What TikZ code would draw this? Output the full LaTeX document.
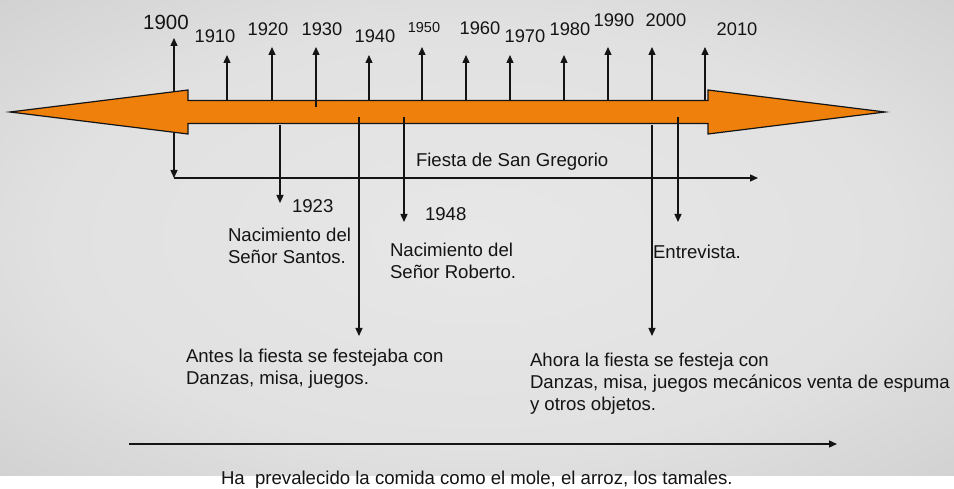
\documentclass[tikz,border=0pt]{standalone}
\usepackage{fontspec}
\setmainfont{Liberation Sans}
\usetikzlibrary{arrows.meta}
\definecolor{orangefill}{RGB}{240,128,12}
\definecolor{ink}{RGB}{20,20,20}
\definecolor{bgA}{RGB}{231,231,231}
\definecolor{bgB}{RGB}{225,225,225}
\definecolor{bgC}{RGB}{207,207,207}
\definecolor{bgD}{RGB}{184,184,184}
\definecolor{bgE}{RGB}{172,172,172}
\pgfdeclareradialshading{bgshade}{\pgfpoint{0bp}{0bp}}{color(0bp)=(bgA); color(22bp)=(bgB); color(38bp)=(bgC); color(50bp)=(bgD); color(71bp)=(bgE)}
\tikzset{
  conn/.style={draw=ink, line width=1.3pt, -{Triangle[length=8pt,width=7pt]}},
  conn2/.style={draw=ink, line width=1.3pt, {Triangle[length=8pt,width=7pt]}-{Triangle[length=8pt,width=7pt]}},
  yr/.style={inner sep=0pt, outer sep=0pt, anchor=base, text=ink, font=\fontsize{18.3}{21}\selectfont},
  lbl/.style={inner sep=0pt, outer sep=0pt, text=ink, font=\fontsize{18.6}{21.9}\selectfont},
  blockarrow/.style={fill=orangefill, draw=ink, line width=1.2pt, line join=miter}
}
\begin{document}
\begin{tikzpicture}[x=1pt,y=-1pt]
\useasboundingbox (0,0) rectangle (954,489);
\fill[white] (0,0) rectangle (954,489);
\shade[shading=bgshade] (0,0) rectangle (954,475);

% 1900 connector (behind the block arrow)
\coordinate (a1900) at (174,38);
\coordinate (b1900) at (174,178);
\draw[conn2] (b1900) -- (a1900);

% block arrow
\draw[blockarrow] (10,112) -- (188,90) -- (188,100.5) -- (708,100.5) -- (708,90) -- (885,112)
  -- (708,134) -- (708,123.5) -- (188,123.5) -- (188,134) -- cycle;

% upward ticks
\coordinate (b1910) at (227,100.5); \coordinate (a1910) at (227,55);
\coordinate (b1920) at (272,100.5); \coordinate (a1920) at (272,47);
\coordinate (b1930) at (316,107);   \coordinate (a1930) at (316,47);
\coordinate (b1940) at (369,100.5); \coordinate (a1940) at (369,55);
\coordinate (b1950) at (422,100.5); \coordinate (a1950) at (422,47);
\coordinate (b1960) at (466,100.5); \coordinate (a1960) at (466,55);
\coordinate (b1970) at (510,100.5); \coordinate (a1970) at (510,55);
\coordinate (b1980) at (564,100.5); \coordinate (a1980) at (564,55);
\coordinate (b1990) at (608,100.5); \coordinate (a1990) at (608,47);
\coordinate (b2000) at (652,100.5); \coordinate (a2000) at (652,47);
\coordinate (b2010) at (705,100.5); \coordinate (a2010) at (705,47);
\foreach \y in {1910,1920,1930,1940,1950,1960,1970,1980,1990,2000,2010}
  \draw[conn] (b\y) -- (a\y);

% year labels
\node[yr, font=\fontsize{20.5}{24}\selectfont] (l1900) at (166,30) {1900};
\node[yr] (l1910) at (215,43) {1910};
\node[yr] (l1920) at (268,36) {1920};
\node[yr] (l1930) at (322,36) {1930};
\node[yr] (l1940) at (375,43) {1940};
\node[yr, font=\fontsize{14.5}{17}\selectfont] (l1950) at (424,32.3) {1950};
\node[yr] (l1960) at (480,35) {1960};
\node[yr] (l1970) at (525,43) {1970};
\node[yr] (l1980) at (570,36) {1980};
\node[yr] (l1990) at (614,27) {1990};
\node[yr] (l2000) at (666,27) {2000};
\node[yr] (l2010) at (737,36) {2010};

% Fiesta de San Gregorio
\coordinate (fend) at (758,178);
\draw[conn] (b1900) -- (fend);
\node[lbl, anchor=base west] (fiesta) at (416,167) {Fiesta de San Gregorio};

% downward connectors
\coordinate (s1923) at (280,125);  \coordinate (e1923) at (280,203);
\coordinate (sAntes) at (359,117); \coordinate (eAntes) at (359,336);
\coordinate (s1948) at (404,117);  \coordinate (e1948) at (404,222);
\coordinate (sAhora) at (652,125); \coordinate (eAhora) at (652,336);
\coordinate (sEntr) at (678,117);  \coordinate (eEntr) at (678,222);
\draw[conn] (s1923) -- (e1923);
\draw[conn] (sAntes) -- (eAntes);
\draw[conn] (s1948) -- (e1948);
\draw[conn] (sAhora) -- (eAhora);
\draw[conn] (sEntr) -- (eEntr);

\node[lbl, anchor=base west] (y1923) at (292,213) {1923};
\node[lbl, anchor=base west] (y1948) at (425,221) {1948};
\node[lbl, anchor=north west, align=left] (santos) at (228,228) {Nacimiento del\\Señor Santos.};
\node[lbl, anchor=north west, align=left] (roberto) at (390,243) {Nacimiento del\\Señor Roberto.};
\node[lbl, anchor=base west] (entrevista) at (653,259) {Entrevista.};
\node[lbl, anchor=north west, align=left] (antes) at (186,349) {Antes la fiesta se festejaba con\\Danzas, misa, juegos.};
\node[lbl, anchor=north west, align=left] (ahora) at (530,353) {Ahora la fiesta se festeja con\\Danzas, misa, juegos mecánicos venta de espuma\\y otros objetos.};

% bottom arrow
\coordinate (bs) at (129,444);
\coordinate (be) at (837,444);
\draw[conn] (bs) -- (be);
\node[lbl, anchor=base west] (comida) at (221,484.5) {Ha\ \ prevalecido la comida como el mole, el arroz, los tamales.};
\end{tikzpicture}
\end{document}
